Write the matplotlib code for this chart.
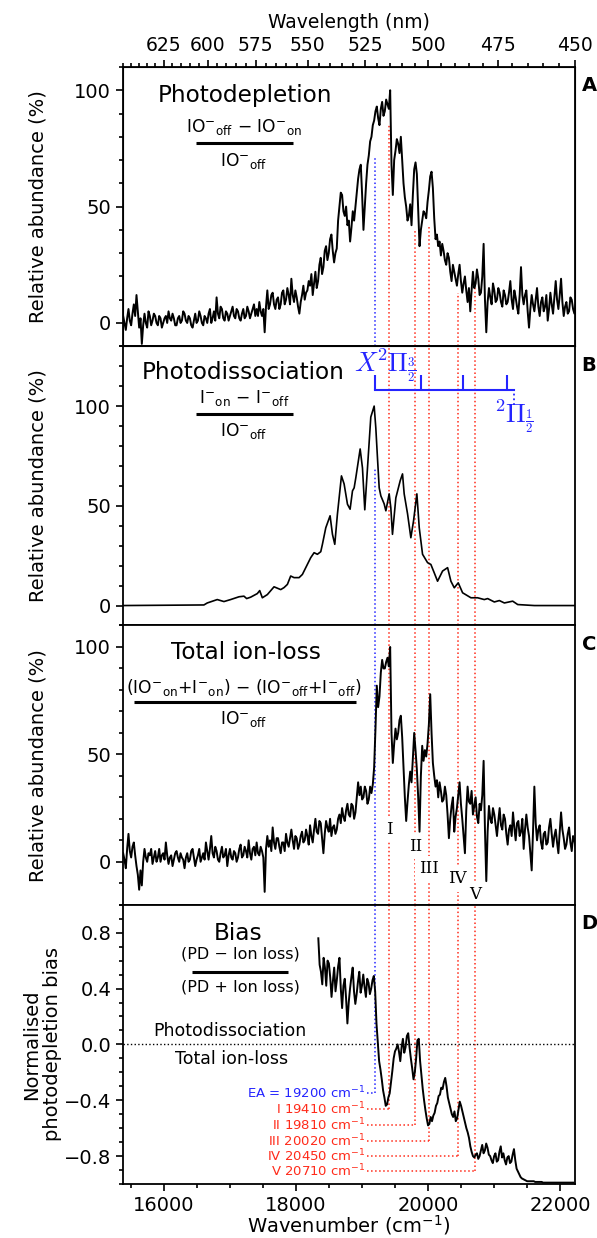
import numpy as np
import matplotlib.pyplot as plt
from matplotlib.ticker import MultipleLocator

plt.rcParams['font.family'] = 'DejaVu Sans'
plt.rcParams['mathtext.default'] = 'regular'

# ---------------- data ----------------
# A: photodepletion (%), sampled every ~20 cm-1 from 15387 cm-1
pd_start, pd_step = 15387, 20.2
pd_val = [3, 0, -3, 2, 6, 1, -1, 4, 8, 3, 12, 5, -2, 2, -9, -1, 4, 0, -2, 5,
          3, -1, 1, 4, 3, 0, -1, 3, 2, -2, 0, 2, 3, 0, 5, 2, 1, 4, 2, -1,
          -1, 2, 3, 0, 1, 5, 4, 1, 0, 3, 2, -1, -2, 1, 4, 0, 1, 5, 3, 0,
          -1, 3, 2, 0, 4, 6, 0, 2, 5, 1, 11, 4, 2, 7, 6, 2, 1, 5, 4, 1,
          3, 5, 7, 3, 2, 6, 5, 2, 1, 4, 6, 2, 3, 7, 5, 2, 4, 6, 8, 3,
          6, 3, 9, 5, 3, 6, -4, 7, 14, 6, 8, 12, 13, 8, 6, 10, 11, 6, 8, 13,
          14, 8, 10, 15, 12, 8, 19, 12, 9, 14, 11, 7, 4, 9, 12, 16, 10, 13, 14, 18,
          16, 21, 12, 17, 22, 15, 18, 25, 28, 21, 24, 31, 33, 27, 30, 36, 38, 31, 26, 30,
          32, 44, 50, 56, 55, 48, 46, 50, 42, 44, 35, 41, 48, 44, 50, 56, 62, 66, 68, 55,
          40, 50, 60, 68, 72, 78, 80, 85, 87, 91, 93, 88, 85, 92, 95, 89, 91, 96, 94, 92,
          100, 68, 55, 70, 74, 79, 77, 73, 80, 70, 60, 54, 50, 44, 46, 51, 42, 55, 66, 69,
          64, 48, 33, 40, 44, 48, 47, 45, 52, 57, 63, 65, 58, 45, 36, 38, 33, 35, 29, 34,
          31, 27, 25, 30, 28, 22, 18, 25, 22, 19, 16, 21, 25, 18, 13, 17, 20, 14, 9, 15,
          5, 14, 22, 15, 17, 23, 19, 12, 13, 20, 34, 10, -4, 9, 15, 11, 8, 17, 14, 9,
          10, 15, 13, 9, 7, 14, 12, 8, 9, 13, 18, 10, 6, 14, 11, 7, 4, 12, 24, 12,
          8, 12, 14, 5, -2, 6, 12, 8, 5, 10, 15, 7, 3, 9, 11, 5, 7, 12, 1, 6,
          13, 8, 4, 11, 18, 10, 6, 12, 19, 9, 3, 7, 9, 4, 5, 11, 10, 6, 4, 8,
          6]

# B: photodissociation (%), smooth trace
pdis_wn = [15372, 16609, 16660, 16811, 16912, 17013, 17140, 17215, 17256, 17316,
           17417, 17453, 17493, 17569, 17670, 17771, 17821, 17872, 17922, 17973,
           18049, 18099, 18150, 18225, 18276, 18326, 18377, 18402, 18453, 18518,
           18554, 18589, 18629, 18690, 18730, 18781, 18821, 18857, 18882, 18907,
           18973, 19008, 19043, 19084, 19134, 19185, 19210, 19235, 19261, 19286,
           19336, 19362, 19412, 19437, 19462, 19513, 19579, 19614, 19639, 19690,
           19740, 19781, 19831, 19867, 19917, 19993, 20043, 20094, 20144, 20220,
           20296, 20346, 20397, 20457, 20523, 20649, 20750, 20851, 20902, 21003,
           21079, 21155, 21281, 21357, 21609, 22230]
pdis_val = [0, 0.3, 1.3, 3, 2, 3, 4.4, 4.7, 3.5, 4.2,
            6, 7.5, 3.9, 5.5, 9.4, 8, 9, 10.6, 14.8, 14,
            14, 15.6, 19, 24, 26.5, 25.7, 27, 30.7, 39, 45,
            35.7, 30.7, 45.8, 65, 61, 50.8, 48.3, 57.5, 59, 64,
            78.5, 69, 48, 69, 94.5, 100, 89, 74, 59, 55,
            51, 47.5, 56, 49, 35.7, 54, 62.6, 66, 56, 46,
            34, 42.5, 56, 39, 25.7, 21.5, 20.6, 16.4, 12.2, 17.3,
            19, 12.2, 8.9, 11.4, 6.4, 3.9, 3.9, 3, 3.5, 1.8,
            2.5, 1.3, 2.2, 0.5, 0, 0]

# C: total ion-loss (%), same sampling as A
til_val = [4, 1, -3, 6, 13, 5, 2, 7, 9, 3, -2, -6, -13, -4, -11, 0, 6, 2, 0, 4,
           3, 6, -1, 2, 5, 0, 2, 6, 0, 3, 4, 1, 9, 3, -1, 2, 3, -2, 1, 4,
           5, 2, 0, 4, 2, 1, -3, 2, 4, 0, 1, 5, 6, 2, -2, 1, 3, 6, 0, 2,
           4, 1, 9, 5, 1, 6, 12, 4, 2, 7, 5, 1, 0, 4, 7, 2, 3, 6, -2, 3,
           6, 2, 1, 5, 4, 0, 2, 6, 8, 2, 3, 7, 5, 2, 10, 4, 1, 6, 7, 3,
           9, 4, 3, 7, 5, 2, -14, 6, 12, 7, 10, 5, 16, 9, 6, 11, 11, 7, 4, 9,
           9, 5, 13, 9, 7, 11, 15, 10, 6, 12, 11, 6, 8, 12, 14, 9, 10, 15, 12, 8,
           17, 12, 9, 15, 20, 14, 13, 19, 18, 11, 4, 13, 19, 16, 14, 20, 12, 16, 17, 13,
           15, 20, 22, 18, 25, 21, 19, 24, 27, 22, 21, 27, 26, 20, 23, 30, 37, 31, 35, 29,
           30, 35, 33, 27, 29, 35, 32, 36, 44, 62, 82, 72, 77, 88, 94, 90, 90, 93, 95, 91,
           100, 60, 46, 55, 62, 57, 60, 66, 68, 58, 44, 30, 19, 28, 36, 42, 37, 48, 60, 52,
           43, 30, 14, 40, 54, 47, 52, 49, 55, 64, 78, 60, 46, 40, 35, 38, 30, 37, 33, 28,
           29, 35, 31, 22, 11, 20, 26, 30, 14, 21, 25, 31, 37, 27, 20, 12, 4, 24, 35, 28,
           27, 33, 22, 26, 30, 21, 18, 27, 24, 31, 47, 15, -9, 14, 26, 20, 18, 25, 22, 17,
           12, 19, 25, 17, 15, 22, 20, 13, 8, 15, 17, 12, 23, 16, 10, 18, 19, 12, 14, 20,
           6, 15, 22, 16, 12, 4, -4, 14, 35, 18, 10, 15, 17, 9, 6, 13, 14, 8, 9, 16,
           20, 13, 7, 12, 15, 9, 4, 14, 23, 15, 11, 6, 8, 13, 16, 9, 5, 12, 10, 6,
           7]

# D: normalised bias, every 20 cm-1 from 18340 cm-1
bias_start, bias_step = 18340, 20
bias_val = [0.76, 0.57, 0.52, 0.43, 0.62, 0.55, 0.42, 0.60, 0.58, 0.48,
            0.34, 0.45, 0.55, 0.38, 0.46, 0.56, 0.62, 0.40, 0.26, 0.42,
            0.47, 0.33, 0.15, 0.30, 0.40, 0.48, 0.55, 0.38, 0.29, 0.36,
            0.45, 0.52, 0.37, 0.42, 0.50, 0.41, 0.34, 0.47, 0.44, 0.36,
            0.40, 0.46, 0.49, 0.38, 0.15, 0.02, -0.12, -0.18, -0.25, -0.33,
            -0.38, -0.44, -0.43, -0.38, -0.35, -0.27, -0.19, -0.10, -0.05, -0.03,
            0.00, -0.05, -0.12, -0.02, 0.04, -0.06, -0.02, 0.06, 0.08, -0.02,
            -0.10, -0.17, -0.25, -0.20, -0.10, 0.03, 0.04, -0.12, -0.22, -0.32,
            -0.40, -0.47, -0.53, -0.58, -0.57, -0.52, -0.55, -0.51, -0.49, -0.44,
            -0.42, -0.37, -0.36, -0.31, -0.32, -0.27, -0.24, -0.30, -0.38, -0.42,
            -0.46, -0.50, -0.52, -0.48, -0.55, -0.53, -0.47, -0.41, -0.44, -0.48,
            -0.52, -0.56, -0.60, -0.63, -0.67, -0.73, -0.77, -0.80, -0.81, -0.79,
            -0.78, -0.82, -0.80, -0.76, -0.72, -0.78, -0.76, -0.71, -0.74, -0.79,
            -0.80, -0.83, -0.85, -0.80, -0.78, -0.84, -0.83, -0.77, -0.73, -0.81,
            -0.78, -0.83, -0.86, -0.81, -0.80, -0.85, -0.84, -0.79, -0.75, -0.83,
            -0.89, -0.91, -0.93, -0.95, -0.96, -0.965, -0.97, -0.975, -0.98, -0.98,
            -0.98, -0.98, -0.98, -0.98, -0.985, -0.985, -0.985, -0.985, -0.985, -0.985,
            -0.99, -0.99, -0.99, -0.99, -0.99, -0.99, -0.99, -0.99, -0.99, -0.99,
            -0.99, -0.99, -0.99, -0.99, -0.99, -0.99, -0.99, -0.99, -0.99, -0.99,
            -0.99, -0.99, -0.99, -0.99]

# marker lines: EA (blue) then the five red bands
mark_wn = [19200, 19410, 19810, 20020, 20450, 20710]
mark_roman = ['I', 'II', 'III', 'IV', 'V']
mark_top_a = [71, 85, 40, 42, 13, 15]          # where the lines stop in A
ea_top_b = 69
roman_y = [15, 7, -3, -8, -15]                  # label heights in C
label_lvl_d = [-0.345, -0.465, -0.575, -0.69, -0.80, -0.91]
label_txt_d = ['EA = 19200 cm$^{-1}$', 'I 19410 cm$^{-1}$', 'II 19810 cm$^{-1}$',
               'III 20020 cm$^{-1}$', 'IV 20450 cm$^{-1}$', 'V 20710 cm$^{-1}$']

# spin-orbit bracket in B
so_ticks = [19200, 19890, 20530, 21200]
so_end = 21295

nm_major = [625, 600, 575, 550, 525, 500, 475, 450]

BLUE = '#2424ff'
RED = '#ff2b1a'
mark_col = [BLUE] + [RED] * 5

pd_wn = pd_start + pd_step * np.arange(len(pd_val))
til_wn = pd_start + pd_step * np.arange(len(til_val))
bias_wn = bias_start + bias_step * np.arange(len(bias_val))

# ---------------- figure ----------------
fig, axes = plt.subplots(4, 1, figsize=(5.97, 12.38), dpi=100, sharex=True)
fig.subplots_adjust(left=0.206, right=0.963, top=0.9459, bottom=0.0436, hspace=0)
axA, axB, axC, axD = axes

for ax in axes:
    ax.set_xlim(1e7 / 650, 1e7 / 450)
    ax.xaxis.set_major_locator(MultipleLocator(2000))
    ax.xaxis.set_minor_locator(MultipleLocator(500))
    ax.tick_params(which='both', direction='out', width=1.2, labelsize=14)
    ax.tick_params(which='major', length=5)
    ax.tick_params(which='minor', length=3)
    for s in ax.spines.values():
        s.set_linewidth(1.3)

for ax, lbl in zip(axes, 'ABCD'):
    ax.text(1.015, 0.932, lbl, transform=ax.transAxes, fontsize=14,
            fontweight='bold', va='center', ha='left')


def fraction(ax, x, y_num, y_bar, y_den, x0, x1, num, den, size=12.3):
    ax.text(x, y_num, num, transform=ax.transAxes, ha='center', va='center', fontsize=size)
    ax.plot([x0, x1], [y_bar, y_bar], transform=ax.transAxes, color='k', lw=2.2,
            solid_capstyle='butt')
    ax.text(x, y_den, den, transform=ax.transAxes, ha='center', va='center', fontsize=size)


io_off = r'IO$^{-}{}_{off}$'
TITLE = 16.7

# ---- A ----
axA.plot(pd_wn, pd_val, color='k', lw=1.4, zorder=3)
for x, top, c in zip(mark_wn, mark_top_a, mark_col):
    axA.vlines(x, -10, top, colors=c, linestyles=':', lw=1.1, zorder=1)
axA.set_ylim(-10, 110)
axA.set_yticks([0, 50, 100])
axA.yaxis.set_minor_locator(MultipleLocator(10))
axA.set_ylabel('Relative abundance (%)', fontsize=14)
axA.text(0.27, 0.899, 'Photodepletion', transform=axA.transAxes, ha='center',
         va='center', fontsize=TITLE)
fraction(axA, 0.268, 0.784, 0.727, 0.665, 0.161, 0.376,
         'IO$^{-}{}_{off}$ \u2212 IO$^{-}{}_{on}$', io_off)

top = axA.twiny()
top.set_xlim(axA.get_xlim())
top.set_xticks([1e7 / l for l in nm_major])
top.set_xticklabels([str(l) for l in nm_major])
top.set_xticks([1e7 / l for l in range(450, 651, 5)], minor=True)
top.tick_params(which='both', direction='out', width=1.2, labelsize=13.5)
top.tick_params(which='major', length=5)
top.tick_params(which='minor', length=3)
top.set_xlabel('Wavelength (nm)', fontsize=13.5, labelpad=6)

# ---- B ----
axB.plot(pdis_wn, pdis_val, color='k', lw=1.2, zorder=3)
for x, c in zip(mark_wn, mark_col):
    if c == BLUE:
        axB.vlines(x, -10, ea_top_b, colors=c, linestyles=':', lw=1.1, zorder=1)
    else:
        axB.axvline(x, color=c, ls=':', lw=1.1, zorder=1)
axB.set_ylim(-10, 130)
axB.set_yticks([0, 50, 100])
axB.yaxis.set_minor_locator(MultipleLocator(10))
axB.set_ylabel('Relative abundance (%)', fontsize=14)
axB.text(0.265, 0.906, 'Photodissociation', transform=axB.transAxes, ha='center',
         va='center', fontsize=TITLE)
fraction(axB, 0.268, 0.813, 0.759, 0.697, 0.161, 0.376,
         'I$^{-}{}_{on}$ \u2212 I$^{-}{}_{off}$', io_off)
# spin-orbit bracket
so_y, so_tick = 108, 115.5
axB.plot([so_ticks[0], so_end], [so_y, so_y], color=BLUE, lw=1.5)
axB.vlines(so_ticks, so_y, so_tick, colors=BLUE, lw=1.5)
axB.vlines(so_end, 100.5, so_y, colors=BLUE, linestyles=':', lw=1.3)
axB.text(18885, 117.5,
         r'$\mathit{X}^{\mathrm{2}}\mathrm{\Pi}_{\frac{\mathrm{3}}{\mathrm{2}}}$',
         color=BLUE, fontsize=19, math_fontfamily='cm', ha='left', va='baseline')
axB.text(21020, 92.0,
         r'$^{\mathrm{2}}\mathrm{\Pi}_{\frac{\mathrm{1}}{\mathrm{2}}}$',
         color=BLUE, fontsize=19, math_fontfamily='cm', ha='left', va='baseline')

# ---- C ----
axC.plot(til_wn, til_val, color='k', lw=1.4, zorder=3)
for x, c in zip(mark_wn, mark_col):
    axC.axvline(x, color=c, ls=':', lw=1.1, zorder=1)
for x, y, r in zip(mark_wn[1:], roman_y, mark_roman):
    axC.text(x, y, r, ha='center', va='center', fontsize=12, family='DejaVu Serif',
             zorder=2, bbox=dict(facecolor='white', edgecolor='none', pad=3))
axC.set_ylim(-20, 110)
axC.set_yticks([0, 50, 100])
axC.yaxis.set_minor_locator(MultipleLocator(10))
axC.set_ylabel('Relative abundance (%)', fontsize=14)
axC.text(0.272, 0.903, 'Total ion-loss', transform=axC.transAxes, ha='center',
         va='center', fontsize=TITLE)
fraction(axC, 0.268, 0.777, 0.727, 0.665, 0.024, 0.515,
         '(IO$^{-}{}_{on}$+I$^{-}{}_{on}$) \u2212 (IO$^{-}{}_{off}$+I$^{-}{}_{off}$)',
         io_off)

# ---- D ----
axD.plot(bias_wn, bias_val, color='k', lw=1.4, zorder=3)
axD.axhline(0, color='k', ls=':', lw=1.0)
for x, lvl, c, t in zip(mark_wn, label_lvl_d, mark_col, label_txt_d):
    axD.vlines(x, lvl, 1.0, colors=c, linestyles=':', lw=1.1, zorder=1)
    axD.hlines(lvl, 19075, x, colors=c, linestyles=':', lw=1.1, zorder=1)
    axD.text(19055, lvl, t, color=c, ha='right', va='center', fontsize=9.5)
axD.set_ylim(-1, 1)
axD.set_yticks([-0.8, -0.4, 0, 0.4, 0.8])
axD.set_yticklabels(['\u22120.8', '\u22120.4', '0.0', '0.4', '0.8'])
axD.yaxis.set_minor_locator(MultipleLocator(0.1))
axD.set_ylabel('Normalised\nphotodepletion bias', fontsize=14, linespacing=1.15)
axD.set_xlabel('Wavenumber (cm$^{-1}$)', fontsize=14, labelpad=-1)
axD.text(0.254, 0.896, 'Bias', transform=axD.transAxes, ha='center', va='center',
         fontsize=TITLE)
fraction(axD, 0.259, 0.824, 0.759, 0.705, 0.153, 0.365,
         '(PD \u2212 Ion loss)', '(PD + Ion loss)', size=11.5)
axD.text(0.237, 0.547, 'Photodissociation', transform=axD.transAxes, ha='center',
         va='center', fontsize=12.5)
axD.text(0.241, 0.446, 'Total ion-loss', transform=axD.transAxes, ha='center',
         va='center', fontsize=12.5)

for ax in (axA, axB, axC):
    ax.yaxis.set_label_coords(-0.166, 0.5)
axD.yaxis.set_label_coords(-0.135, 0.5)

fig.savefig('out.png', dpi=100)
